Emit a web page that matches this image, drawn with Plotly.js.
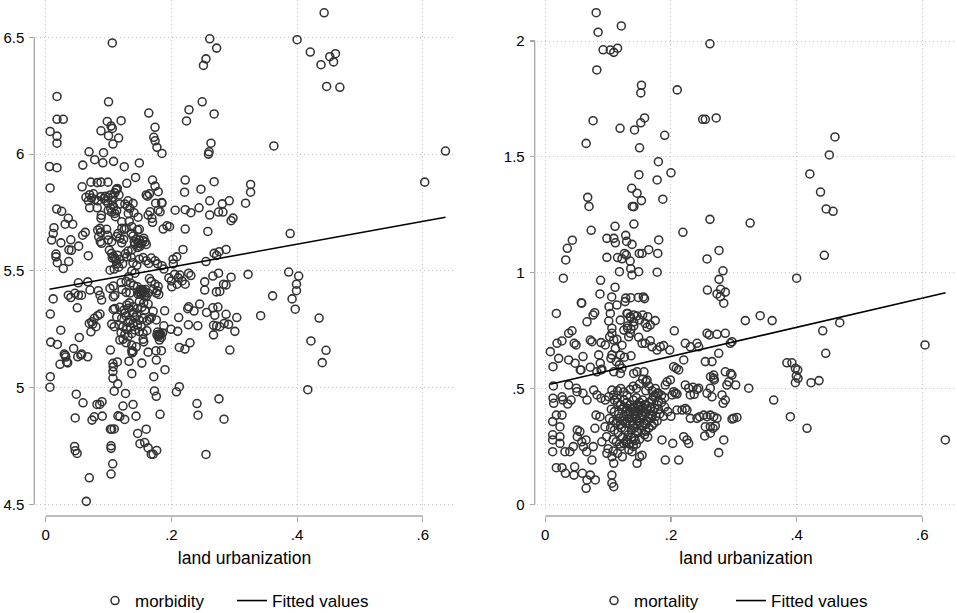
<!DOCTYPE html>
<html>
<head>
<meta charset="utf-8">
<script src="https://cdn.plot.ly/plotly-3.0.1.min.js"></script>
<style>html,body{margin:0;padding:0;background:#fff;}#chart{width:957px;height:613px;}</style>
</head>
<body>
<div id="chart"></div>
<script>
// ---- data ----
const xTickVals = [0, 0.2, 0.4, 0.6];
const xTickText = ["0", ".2", ".4", ".6"];
const morbTickVals = [4.5, 5, 5.5, 6, 6.5];
const morbTickText = ["4.5", "5", "5.5", "6", "6.5"];
const mortTickVals = [0, 0.5, 1, 1.5, 2];
const mortTickText = ["0", ".5", "1", "1.5", "2"];
const xTitle = "land urbanization";
const seriesNames = ["morbidity", "mortality", "Fitted values"];

// morbidity vs land urbanization [x, y]
const morbidityPoints = [
[0.443,6.605],[0.106,6.476],[0.261,6.494],[0.272,6.454],[0.400,6.490],[0.421,6.437],[0.438,6.383],[0.452,6.417],[0.461,6.430],[0.458,6.395],[0.447,6.290],[0.468,6.286],[0.255,6.408],[0.251,6.380],[0.018,6.247],[0.018,6.149],[0.028,6.149],[0.100,6.224],[0.249,6.224],[0.228,6.190],[0.224,6.142],[0.164,6.176],[0.268,6.172],[0.120,6.143],[0.098,6.140],[0.104,6.120],[0.106,6.110],[0.007,6.097],[0.018,6.077],[0.018,6.047],[0.088,6.100],[0.100,6.079],[0.116,6.069],[0.107,6.043],[0.174,6.115],[0.172,6.072],[0.174,6.057],[0.177,6.029],[0.185,6.003],[0.263,6.047],[0.260,6.010],[0.259,6.000],[0.363,6.035],[0.636,6.013],[0.603,5.880],[0.006,5.947],[0.018,5.942],[0.007,5.855],[0.069,6.010],[0.078,5.976],[0.092,6.006],[0.091,5.963],[0.059,5.953],[0.108,5.969],[0.125,5.946],[0.149,5.962],[0.143,5.900],[0.129,5.875],[0.072,5.880],[0.082,5.878],[0.088,5.880],[0.099,5.880],[0.058,5.860],[0.113,5.850],[0.110,5.834],[0.170,5.889],[0.174,5.863],[0.179,5.839],[0.162,5.820],[0.165,5.830],[0.185,5.790],[0.206,5.760],[0.222,5.889],[0.221,5.837],[0.247,5.850],[0.268,5.882],[0.261,5.800],[0.244,5.770],[0.222,5.762],[0.231,5.749],[0.261,5.739],[0.281,5.787],[0.292,5.800],[0.275,5.752],[0.282,5.752],[0.318,5.790],[0.326,5.870],[0.326,5.837],[0.298,5.726],[0.295,5.715],[0.258,5.669],[0.222,5.679],[0.389,5.660],
[0.064,5.815],[0.070,5.826],[0.076,5.830],[0.068,5.800],[0.070,5.770],[0.082,5.770],[0.083,5.800],[0.093,5.810],[0.095,5.820],[0.099,5.815],[0.103,5.825],[0.107,5.815],[0.105,5.800],[0.096,5.800],[0.099,5.790],[0.108,5.775],[0.073,5.812],[0.078,5.806],[0.088,5.818],
[0.0175,5.765],[0.0255,5.755],[0.036,5.725],[0.031,5.700],[0.043,5.700],[0.0132,5.685],[0.012,5.660],[0.0095,5.632],[0.0243,5.620],[0.040,5.633],[0.0525,5.606],[0.037,5.590],[0.041,5.588],[0.0164,5.572],[0.0164,5.560],[0.0185,5.535],[0.028,5.510],[0.0366,5.540],[0.0589,5.653],[0.063,5.665],[0.0678,5.565],
[0.0827,5.675],[0.0864,5.682],[0.0875,5.665],[0.0843,5.646],[0.0869,5.625],[0.097,5.678],[0.0986,5.653],[0.0996,5.632],[0.089,5.618],[0.105,5.625],[0.0885,5.738],[0.088,5.725],
[0.1034,5.768],[0.0996,5.760],[0.105,5.752],[0.110,5.746],[0.113,5.757],[0.112,5.846],[0.114,5.853],[0.1166,5.825],[0.111,5.732],[0.118,5.786],[0.126,5.786],[0.121,5.710],[0.121,5.682],[0.115,5.660],[0.118,5.640],[0.121,5.620],[0.113,5.647],[0.124,5.635],
[0.130,5.777],[0.139,5.789],[0.134,5.768],[0.1405,5.749],[0.1314,5.746],[0.133,5.712],[0.125,5.678],[0.128,5.683],[0.137,5.689],[0.136,5.661],[0.139,5.649],[0.146,5.675],[0.149,5.678],
[0.144,5.635],[0.149,5.632],[0.155,5.630],[0.147,5.620],[0.152,5.615],[0.158,5.624],[0.160,5.613],[0.142,5.613],[0.146,5.600],[0.137,5.590],[0.131,5.585],[0.129,5.560],[0.136,5.558],[0.141,5.625],[0.150,5.605],[0.156,5.640],
[0.1013,5.589],[0.1049,5.575],[0.1076,5.563],[0.110,5.553],[0.114,5.567],[0.118,5.549],[0.113,5.530],[0.1225,5.530],[0.127,5.573],[0.116,5.516],[0.109,5.508],[0.1024,5.503],[0.112,5.545],[0.106,5.555],
[0.139,5.535],[0.145,5.524],[0.149,5.550],[0.155,5.557],[0.160,5.543],[0.164,5.532],[0.168,5.555],[0.174,5.543],[0.178,5.530],[0.185,5.522],[0.188,5.508],
[0.137,5.500],[0.142,5.490],[0.132,5.475],[0.128,5.455],[0.135,5.448],[0.140,5.438],[0.146,5.432],[0.150,5.420],[0.155,5.410],[0.159,5.420],[0.152,5.400],[0.147,5.400],[0.153,5.415],[0.157,5.405],[0.151,5.410],[0.158,5.395],[0.154,5.420],[0.156,5.413],[0.152,5.418],[0.149,5.405],
[0.165,5.467],[0.168,5.455],[0.174,5.443],[0.179,5.433],[0.171,5.420],[0.176,5.405],[0.163,5.405],[0.160,5.390],[0.180,5.399],
[0.196,5.470],[0.200,5.457],[0.205,5.485],[0.211,5.470],[0.217,5.457],[0.222,5.443],[0.209,5.443],[0.2135,5.482],[0.2006,5.432],[0.2027,5.550],[0.2085,5.560],[0.203,5.530],
[0.187,5.679],[0.193,5.693],[0.197,5.689],[0.1845,5.793],[0.179,5.760],[0.182,5.753],[0.166,5.753],[0.169,5.725],[0.170,5.708],[0.163,5.739],[0.175,5.790],[0.160,5.825],[0.131,5.800],[0.147,5.730],
[0.2185,5.592],[0.268,5.575],[0.272,5.566],[0.276,5.582],[0.287,5.592],[0.255,5.540],[0.3866,5.495],[0.4025,5.478],[0.322,5.485],[0.295,5.473],[0.266,5.478],[0.275,5.490],[0.283,5.443],[0.287,5.440],[0.253,5.453],[0.253,5.418],[0.2716,5.410],[0.277,5.412],[0.399,5.443],[0.399,5.415],[0.392,5.380],[0.361,5.393],[0.2275,5.490],[0.231,5.480],
[0.012,5.380],[0.036,5.396],[0.040,5.386],[0.0466,5.404],[0.052,5.396],[0.057,5.396],[0.052,5.449],[0.067,5.453],[0.0705,5.418],[0.0837,5.415],[0.0864,5.396],[0.1023,5.425],[0.1076,5.435],[0.110,5.396],[0.120,5.450],[0.1215,5.420],[0.128,5.408],[0.134,5.405],[0.1776,5.415],
[0.0074,5.315],[0.024,5.246],[0.089,5.375],[0.1076,5.389],
[0.0827,5.308],[0.0773,5.297],[0.0694,5.275],[0.0748,5.272],[0.072,5.239],[0.0535,5.215],[0.0445,5.168],[0.051,5.132],[0.031,5.139],[0.0334,5.110],[0.0228,5.100],[0.056,5.139],[0.0668,5.132],
[0.342,5.308],[0.397,5.336],[0.435,5.298],[0.422,5.200],[0.446,5.160],[0.440,5.107],[0.417,4.991],[0.304,5.300],[0.301,5.241],[0.293,5.161],[0.287,5.314],[0.291,5.271],[0.284,5.275],[0.277,5.261],[0.272,5.264],[0.267,5.267],[0.267,5.226],[0.274,5.345],[0.266,5.342],[0.256,5.322],[0.269,5.310],[0.245,5.358],[0.236,5.328],[0.2275,5.346],[0.226,5.338],[0.242,5.265],[0.227,5.269],[0.2116,5.300],[0.210,5.241],[0.1994,5.250],[0.2296,5.192],[0.2216,5.165],[0.2126,5.172],[0.2126,5.004],[0.208,4.982],[0.2407,4.932],[0.2423,4.882],[0.2757,4.952],[0.2837,4.865],[0.255,4.714],
[0.1893,5.329],[0.1898,5.077],[0.182,4.886],[0.1766,4.731],[0.168,4.715],[0.171,4.715],[0.163,4.742],[0.1575,4.765],[0.150,4.760],[0.1464,4.804],[0.160,4.822],[0.1437,4.878],[0.139,4.928],[0.123,4.921],[0.127,4.975],[0.1257,4.864],[0.118,4.876],[0.115,4.879],[0.109,4.985],[0.1146,5.016],[0.107,5.040],[0.107,5.069],[0.1075,5.089],[0.107,5.104],[0.103,5.161],[0.114,5.110],[0.1325,5.113],[0.137,5.060],[0.153,5.105],[0.172,5.047],[0.173,4.986],[0.176,4.963],[0.176,5.118],[0.163,5.152],[0.1755,5.158],[0.184,5.158],[0.137,5.158],[0.1375,5.149],
[0.103,4.822],[0.105,4.822],[0.109,4.823],[0.104,4.751],[0.104,4.740],[0.1066,4.674],[0.104,4.630],[0.0694,4.614],[0.0646,4.513],[0.046,4.748],[0.047,4.730],[0.050,4.718],[0.047,4.870],[0.0487,4.972],[0.0594,4.935],[0.0737,4.861],[0.0773,4.875],[0.0816,4.928],[0.0859,4.928],[0.0896,4.940],[0.090,4.878],[0.0073,5.047],[0.0068,5.002],
[0.035,5.106],[0.032,5.131],[0.0296,5.144],[0.0573,5.144],[0.008,5.195],[0.0185,5.185],[0.0732,5.282],[0.080,5.261],[0.0864,5.315],[0.0503,5.342],
[0.1076,5.335],[0.110,5.339],[0.118,5.344],[0.1246,5.332],[0.129,5.354],[0.133,5.363],[0.139,5.346],[0.146,5.339],[0.153,5.344],[0.158,5.332],[0.163,5.358],[0.149,5.368],[0.156,5.363],[0.113,5.303],[0.121,5.297],[0.128,5.307],[0.134,5.289],[0.142,5.300],[0.149,5.289],[0.155,5.297],[0.161,5.286],[0.165,5.292],[0.105,5.272],[0.109,5.261],[0.117,5.268],[0.123,5.261],[0.129,5.250],[0.135,5.259],[0.142,5.247],[0.149,5.240],[0.155,5.232],[0.161,5.244],[0.137,5.232],[0.131,5.218],[0.123,5.207],[0.118,5.204],[0.128,5.192],[0.137,5.182],[0.139,5.154],[0.144,5.175],[0.155,5.207],[0.156,5.196],[0.178,5.238],[0.180,5.225],[0.183,5.229],[0.184,5.215],[0.179,5.218],[0.186,5.234],[0.181,5.204],[0.171,5.327],[0.176,5.290],[0.168,5.300],[0.188,5.265],
[0.126,5.320],[0.132,5.340],[0.140,5.322],[0.145,5.310],[0.131,5.280],[0.139,5.275],[0.146,5.268],[0.152,5.262],[0.120,5.235],[0.126,5.228],[0.181,5.230],[0.177,5.226]
];
const morbidityFitX = [0.006, 0.636];
const morbidityFitY = [5.421, 5.730];

// mortality vs land urbanization [x, y]
const mortalityPoints = [
[0.081,2.122],[0.084,2.038],[0.121,2.065],[0.092,1.962],[0.1035,1.961],[0.109,1.951],[0.115,1.969],[0.082,1.875],[0.262,1.988],[0.153,1.809],[0.152,1.776],[0.210,1.789],[0.076,1.656],[0.119,1.623],[0.142,1.616],[0.152,1.647],[0.158,1.668],[0.2505,1.662],[0.2547,1.662],[0.272,1.668],[0.190,1.593],[0.065,1.558],[0.150,1.539],[0.180,1.479],[0.200,1.431],[0.149,1.423],[0.178,1.400],[0.1375,1.364],[0.146,1.343],[0.153,1.311],[0.1385,1.286],[0.141,1.285],[0.187,1.317],[0.0675,1.325],[0.0696,1.286],[0.461,1.586],[0.452,1.508],[0.421,1.426],[0.438,1.348],[0.447,1.275],[0.458,1.265],[0.444,1.075],[0.400,0.976],[0.262,1.230],[0.326,1.214],[0.219,1.174],[0.073,1.183],[0.111,1.200],[0.141,1.210],[0.043,1.140],[0.035,1.105],[0.0325,1.055],[0.0287,0.976],[0.098,1.148],[0.109,1.148],[0.1115,1.129],[0.128,1.161],[0.1295,1.135],[0.138,1.122],[0.1805,1.141],[0.1646,1.099],[0.179,1.083],[0.1496,1.083],[0.154,1.083],[0.098,1.066],[0.115,1.065],[0.122,1.060],[0.126,1.083],[0.129,1.076],[0.135,1.050],[0.118,1.004],[0.136,1.017],[0.138,0.990],[0.1486,1.004],[0.178,1.002],[0.088,0.967],[0.087,0.908],[0.1057,0.895],[0.111,0.937],[0.128,0.890],[0.136,0.892],[0.148,0.893],[0.156,0.895],[0.158,0.888],[0.2574,1.059],[0.2765,1.096],[0.2828,1.008],[0.2765,0.971],[0.258,0.925],[0.2733,0.908],[0.279,0.928],[0.2865,0.916],[0.2785,0.896],
[0.0176,0.824],[0.058,0.868],[0.0664,0.788],[0.076,0.817],[0.0786,0.827],[0.1014,0.853],[0.1035,0.824],[0.114,0.860],[0.127,0.875],[0.131,0.824],[0.135,0.810],[0.1407,0.817],[0.146,0.813],[0.155,0.817],[0.163,0.810],[0.175,0.793],[0.167,0.774],[0.150,0.796],[0.1407,0.770],[0.131,0.770],[0.125,0.752],[0.106,0.760],[0.106,0.738],[0.1025,0.723],[0.1089,0.709],[0.1115,0.673],[0.1194,0.644],[0.122,0.687],[0.1327,0.723],[0.1353,0.738],[0.1486,0.721],[0.154,0.695],[0.159,0.695],[0.167,0.706],[0.1698,0.680],[0.1778,0.666],[0.183,0.680],[0.1884,0.685],[0.198,0.666],[0.008,0.659],[0.0186,0.695],[0.0265,0.705],[0.0213,0.630],[0.0372,0.623],[0.046,0.695],[0.049,0.688],[0.060,0.638],[0.0716,0.709],[0.0743,0.702],[0.0887,0.698],[0.0955,0.688],[0.085,0.645],[0.0875,0.609],[0.0887,0.580],[0.0568,0.580],[0.0372,0.738],[0.0425,0.749],[0.0573,0.870],[0.101,0.791],[0.1194,0.795],[0.130,0.824],[0.136,0.807],[0.159,0.781],[0.131,0.760],[0.1364,0.756],[0.162,0.764],[0.1407,0.788],[0.2053,0.749],[0.2228,0.695],[0.2308,0.680],[0.2414,0.695],[0.2441,0.680],[0.2547,0.616],[0.2653,0.616],[0.2574,0.738],[0.261,0.731],[0.2733,0.734],[0.2865,0.738],[0.2944,0.695],[0.2971,0.702],[0.284,0.868],[0.276,0.652],
[0.3183,0.793],[0.342,0.814],[0.361,0.793],[0.4415,0.749],[0.4463,0.652],[0.4686,0.784],[0.6043,0.688],[0.0475,0.609],[0.0557,0.580],[0.0716,0.592],[0.090,0.583],[0.106,0.645],[0.1045,0.630],[0.113,0.616],[0.118,0.602],[0.122,0.587],[0.126,0.635],[0.1364,0.641],[0.114,0.712],
[0.2043,0.594],[0.2085,0.587],[0.2123,0.580],[0.2203,0.623],
[0.0123,0.594],[0.0128,0.511],[0.0123,0.458],[0.0134,0.436],[0.0266,0.464],[0.028,0.450],[0.0176,0.385],[0.0266,0.385],[0.0356,0.433],[0.041,0.450],[0.0372,0.515],[0.0494,0.501],[0.0505,0.486],[0.060,0.479],[0.0664,0.450],[0.077,0.493],[0.0823,0.472],[0.0887,0.458],[0.0955,0.450],[0.1009,0.464],[0.106,0.493],[0.1089,0.472],[0.114,0.458],[0.0117,0.357],[0.0117,0.300],[0.0117,0.278],[0.0117,0.227],[0.0233,0.335],[0.0233,0.292],[0.0233,0.263],[0.0313,0.227],[0.039,0.227],[0.0446,0.249],[0.0509,0.321],[0.0509,0.292],[0.055,0.314],[0.058,0.270],[0.0605,0.249],[0.0648,0.278],[0.0658,0.227],[0.0764,0.249],[0.079,0.328],[0.0807,0.385],[0.087,0.378],[0.095,0.335],[0.0976,0.292],[0.090,0.270],[0.0176,0.158],[0.0266,0.158],[0.032,0.134],[0.0467,0.162],[0.0456,0.126],[0.059,0.134],[0.0664,0.105],[0.0716,0.126],[0.0796,0.105],[0.065,0.069],[0.0743,0.191],[0.098,0.220],[0.106,0.205],[0.1089,0.177],[0.106,0.126],[0.106,0.091],[0.1089,0.076],[0.1226,0.205],[0.146,0.177],[0.150,0.205],[0.154,0.212],[0.125,0.263],[0.133,0.235],[0.138,0.227],[0.141,0.285],
[0.2017,0.472],[0.2043,0.486],[0.2096,0.476],[0.1937,0.529],[0.199,0.537],[0.268,0.558],[0.268,0.544],[0.269,0.537],[0.2865,0.572],[0.2971,0.558],[0.292,0.529],[0.289,0.515],[0.2626,0.501],[0.2574,0.479],[0.2653,0.464],[0.2812,0.472],[0.2865,0.450],[0.283,0.436],[0.2228,0.515],[0.2282,0.501],[0.235,0.505],[0.2414,0.496],[0.2308,0.472],[0.237,0.475],[0.2441,0.501],[0.2096,0.407],[0.2176,0.407],[0.2228,0.414],[0.2255,0.407],[0.2308,0.371],[0.2414,0.371],[0.2457,0.378],[0.2521,0.385],[0.2574,0.378],[0.2626,0.385],[0.268,0.378],[0.2733,0.371],[0.2706,0.338],[0.2669,0.328],[0.2626,0.335],[0.2547,0.335],[0.284,0.278],[0.276,0.223],[0.2971,0.368],[0.2998,0.371],[0.305,0.375],[0.2203,0.292],[0.2255,0.278],[0.2282,0.263],[0.2123,0.191],[0.2028,0.263],[0.1857,0.278],[0.191,0.191],[0.2537,0.295],[0.2626,0.307],[0.3237,0.501],[0.3635,0.450],[0.390,0.378],[0.4165,0.328],[0.3845,0.611],[0.3925,0.611],[0.398,0.587],[0.4017,0.580],[0.3995,0.554],[0.4022,0.544],[0.398,0.525],[0.4229,0.525],[0.4356,0.534],[0.6366,0.278],
[0.082,0.572],[0.109,0.572],[0.1194,0.565],[0.1407,0.565],[0.146,0.572],[0.157,0.572],[0.162,0.536],[0.178,0.479],[0.191,0.515],[0.207,0.479],[0.263,0.551],[0.303,0.515],[0.295,0.565],
[0.115,0.49],[0.12,0.50],[0.125,0.485],[0.13,0.47],[0.135,0.495],[0.14,0.51],[0.145,0.50],[0.15,0.52],[0.155,0.54],[0.16,0.53],[0.165,0.51],[0.17,0.49],[0.175,0.50],[0.18,0.48],[0.185,0.47],[0.19,0.46],[0.175,0.47],[0.16,0.49],
[0.11,0.45],[0.115,0.44],[0.12,0.43],[0.125,0.45],[0.13,0.44],[0.135,0.43],[0.14,0.45],[0.145,0.46],[0.15,0.44],[0.155,0.45],[0.16,0.43],[0.165,0.44],[0.17,0.45],[0.178,0.43],[0.185,0.44],[0.19,0.42],[0.195,0.40],[0.2,0.38],
[0.105,0.41],[0.11,0.40],[0.117,0.39],[0.122,0.41],[0.128,0.40],[0.133,0.39],[0.138,0.41],[0.143,0.40],[0.148,0.42],[0.152,0.41],[0.157,0.40],[0.162,0.41],[0.167,0.39],[0.172,0.40],[0.176,0.38],[0.182,0.39],[0.188,0.38],
[0.102,0.37],[0.108,0.36],[0.113,0.35],[0.118,0.37],[0.123,0.36],[0.128,0.35],[0.133,0.37],[0.138,0.36],[0.143,0.38],[0.147,0.36],[0.152,0.37],[0.157,0.35],[0.162,0.36],[0.168,0.37],[0.173,0.35],[0.178,0.36],
[0.104,0.33],[0.11,0.32],[0.116,0.31],[0.121,0.33],[0.127,0.32],[0.132,0.30],[0.137,0.32],[0.142,0.33],[0.148,0.31],[0.153,0.32],[0.158,0.30],[0.163,0.29],
[0.108,0.28],[0.113,0.27],[0.118,0.26],[0.123,0.29],[0.128,0.27],[0.134,0.26],[0.14,0.25],[0.145,0.26],[0.15,0.28],
[0.1,0.24],[0.108,0.23],[0.115,0.22],[0.12,0.25],
[0.142,0.42],[0.146,0.43],[0.151,0.425],[0.155,0.415],[0.158,0.43],[0.149,0.395],[0.153,0.385],[0.159,0.39],[0.164,0.375],[0.17,0.38],[0.145,0.37],[0.15,0.35],[0.155,0.34],[0.14,0.34],[0.16,0.345],[0.165,0.33],[0.17,0.34],
[0.125,0.42],[0.13,0.415],[0.135,0.40],[0.14,0.39],[0.125,0.38],[0.13,0.36],[0.12,0.345],[0.115,0.36],[0.135,0.345],[0.145,0.315],[0.13,0.28],[0.137,0.29],[0.143,0.275],[0.16,0.315],[0.168,0.42],[0.174,0.415],[0.18,0.41],[0.18,0.445],[0.172,0.465]
];
const mortalityFitX = [0.008, 0.637];
const mortalityFitY = [0.518, 0.913];

// ---- styling ----
const FONT = "Liberation Sans, Arial, Helvetica, sans-serif";
const markerStyle = {symbol: "circle", size: 8, color: "rgba(0,0,0,0)", line: {color: "#333333", width: 1.55}};
const fitLine = {color: "#000000", width: 1.6};
const axisGrey = "#a6a6a6";

const traces = [
  {type: "scatter", mode: "markers", name: seriesNames[0], x: morbidityPoints.map(p => p[0]), y: morbidityPoints.map(p => p[1]),
   xaxis: "x", yaxis: "y", marker: markerStyle, legend: "legend", cliponaxis: false},
  {type: "scatter", mode: "lines", name: seriesNames[2], x: morbidityFitX, y: morbidityFitY,
   xaxis: "x", yaxis: "y", line: fitLine, legend: "legend"},
  {type: "scatter", mode: "markers", name: seriesNames[1], x: mortalityPoints.map(p => p[0]), y: mortalityPoints.map(p => p[1]),
   xaxis: "x2", yaxis: "y2", marker: markerStyle, legend: "legend2", cliponaxis: false},
  {type: "scatter", mode: "lines", name: seriesNames[2], x: mortalityFitX, y: mortalityFitY,
   xaxis: "x2", yaxis: "y2", line: fitLine, legend: "legend2"}
];

const W = 957, H = 613;
const GRID = {showgrid: true, gridcolor: "#c4c4c4", gridwidth: 1, griddash: "1px,3px"};
function xAxis(domainPx, range) {
  return Object.assign({
    domain: [domainPx[0] / W, domainPx[1] / W], range: range, anchor: "free", position: 1 - 516 / H,
    tickvals: xTickVals, ticktext: xTickText, ticks: "outside", ticklen: 5, tickwidth: 1.2, tickcolor: axisGrey,
    showline: false, zeroline: false,
    tickfont: {family: FONT, size: 15, color: "#000"}, ticklabelstandoff: 0,
    title: {text: xTitle, font: {family: FONT, size: 17.5, color: "#000"}, standoff: 9},
    automargin: false, fixedrange: true
  }, GRID);
}
function yAxis(posPx, range, vals, text) {
  return Object.assign({
    domain: [1 - 510 / H, 1], range: range, anchor: "free", position: posPx / W,
    tickvals: vals, ticktext: text, ticks: "outside", ticklen: 5, tickwidth: 1.2, tickcolor: axisGrey,
    showline: false, zeroline: false,
    tickfont: {family: FONT, size: 15, color: "#000"}, ticklabelstandoff: 2,
    automargin: false, fixedrange: true
  }, GRID);
}

function axisLines(xref, yref, xPosPx, yVals, xVals) {
  return [
    {type: "line", xref: "paper", yref: yref, x0: xPosPx / W, x1: xPosPx / W, y0: yVals[0], y1: yVals[yVals.length - 1],
     line: {color: axisGrey, width: 1.3}},
    {type: "line", xref: xref, yref: "paper", x0: xVals[0], x1: xVals[xVals.length - 1], y0: 1 - 516 / H, y1: 1 - 516 / H,
     line: {color: axisGrey, width: 1.3}}
  ];
}

const legendBase = {orientation: "h", xanchor: "left", y: 1 - 583 / H, yanchor: "top",
  font: {family: FONT, size: 17, color: "#000"}, bgcolor: "rgba(0,0,0,0)", itemwidth: 30, tracegroupgap: 0, entrywidthmode: "pixels"};

const layout = {
  width: W, height: H, margin: {l: 0, r: 0, t: 0, b: 0, autoexpand: false},
  paper_bgcolor: "#ffffff", plot_bgcolor: "#ffffff",
  font: {family: FONT, color: "#000"},
  xaxis: xAxis([36, 453], [-0.0154, 0.648]),
  yaxis: yAxis(34.3, [4.476, 6.66], morbTickVals, morbTickText),
  xaxis2: xAxis([537, 955], [-0.0132, 0.652]),
  yaxis2: yAxis(534.7, [-0.0246, 2.177], mortTickVals, mortTickText),
  shapes: [].concat(axisLines("x", "y", 34.3, morbTickVals, xTickVals), axisLines("x2", "y2", 534.7, mortTickVals, xTickVals)),
  legend: Object.assign({}, legendBase, {x: 95 / W, entrywidth: 92}),
  legend2: Object.assign({}, legendBase, {x: 594 / W, entrywidth: 92}),
  showlegend: true
};

Plotly.newPlot("chart", traces, layout, {displayModeBar: false, staticPlot: true});
</script>
</body>
</html>
